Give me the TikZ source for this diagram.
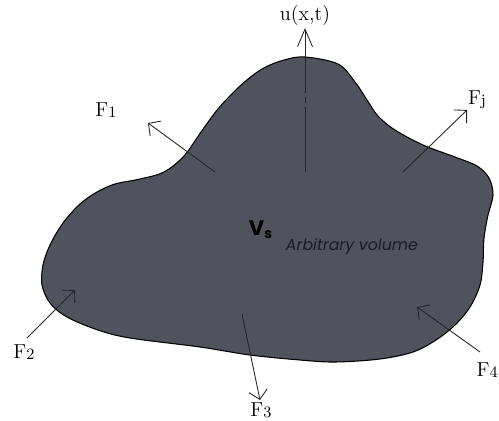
\documentclass[tikz,border=0pt]{standalone}
\usepackage{fontspec}
\newfontfamily\gothic{Poppins}
\usepackage{tikz}
\usetikzlibrary{arrows.meta, positioning}

\definecolor{bodyfill}{RGB}{80,82,94}
\definecolor{bodytext}{RGB}{28,28,34}

\newcommand{\fsub}[1]{\raisebox{-0.6pt}{\fontsize{9}{10}\selectfont #1}}

\tikzset{
	force/.style={draw=black!85, line width=0.5pt, -{Straight Barb[length=5pt, width=10.5pt]}},
	flabel/.style={font=\fontsize{11.5}{13}\selectfont, inner sep=0pt},
}

\begin{document}
\begin{tikzpicture}[x=0.02cm, y=-0.02cm]
	\useasboundingbox (0, 0) rectangle (499, 420);
	% Body outline:
	\draw[fill=bodyfill, line width=0.6pt] plot[smooth cycle, tension=0.55] coordinates {
		(305, 57) (338, 64) (355, 82) (367, 100) (378, 116) (395, 130) (423, 145)
		(455, 157) (477, 166) (489, 178) (493, 195) (488, 215) (484, 238) (483, 262)
		(480, 285) (470, 307) (455, 325) (436, 340) (413, 352) (380, 359) (335, 362)
		(300, 360) (250, 355) (200, 347) (130, 338) (98, 330) (67, 317) (50, 303)
		(42, 285) (43, 265) (50, 245) (63, 223) (80, 204) (97, 192) (115, 184)
		(140, 179) (164, 172) (184, 156) (201, 132) (218, 109) (240, 86) (262, 69)
		(284, 60)};
	% Labels:
	\node[flabel](U) at (305, 15){u(x,t)};
	\node[flabel](F1) at (106, 110){F\fsub{1}};
	\node[flabel](Fj) at (477, 100){F\fsub{j}};
	\node[flabel](F2) at (24, 352){F\fsub{2}};
	\node[flabel](F3) at (261, 410){F\fsub{3}};
	\node[flabel, anchor=east](F4) at (498, 370){F\fsub{4}};
	\node[font=\gothic\bfseries\fontsize{12}{14}\selectfont, text=black, inner sep=0pt](Vs) at (261, 230){V\textsubscript{s}};
	\node[font=\gothic\itshape\fontsize{9}{11}\selectfont, text=bodytext, inner sep=0pt](AV) at (352, 247){Arbitrary volume};
	% Forces:
	\coordinate (u0) at (305, 172);
	\coordinate (u1) at (305, 28);
	\coordinate (a1) at (215, 172);
	\coordinate (b1) at (148, 123);
	\coordinate (aj) at (403, 172);
	\coordinate (bj) at (467, 110);
	\coordinate (a2) at (27, 338);
	\coordinate (b2) at (75, 290);
	\coordinate (a3) at (242, 314);
	\coordinate (b3) at (260, 400);
	\coordinate (a4) at (480, 352);
	\coordinate (b4) at (417, 307);
	\draw[force, -{Straight Barb[length=10pt, width=8.5pt]}, dash pattern={on 37pt off 2.3pt on 3.4pt off 2.3pt on 60pt}] (u0) -- (u1);
	\draw[force] (a1) -- (b1);
	\draw[force] (aj) -- (bj);
	\draw[force] (a2) -- (b2);
	\draw[force] (a3) -- (b3);
	\draw[force] (a4) -- (b4);
\end{tikzpicture}
\end{document}
